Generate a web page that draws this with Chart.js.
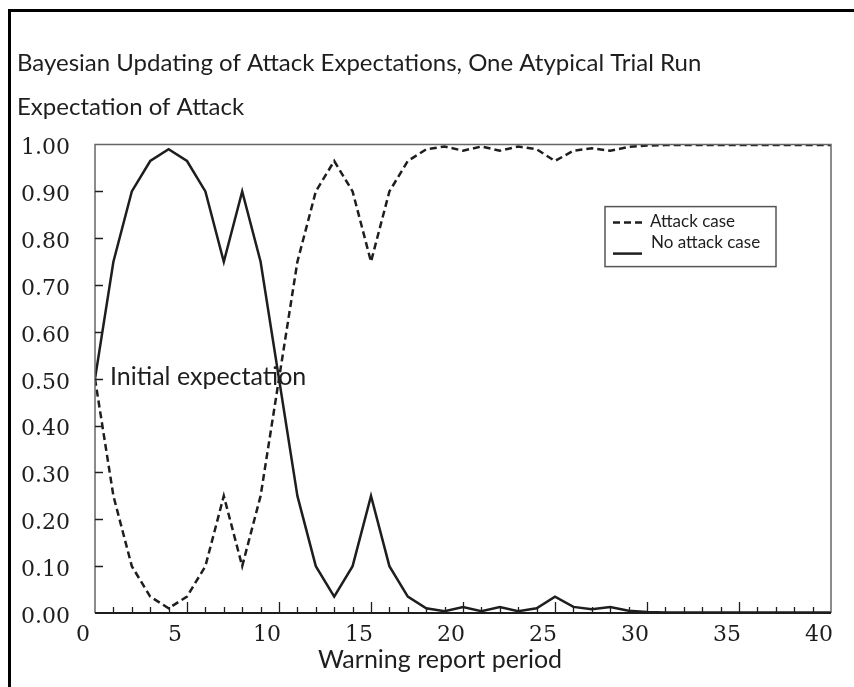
<!DOCTYPE html>
<html>
<head>
<meta charset="utf-8">
<title>Bayesian Updating of Attack Expectations</title>
<script src="https://cdn.jsdelivr.net/npm/chart.js@4.4.1/dist/chart.umd.min.js"></script>
<style>
  body { margin: 0; background: #fff; }
  canvas { display: block; }
</style>
</head>
<body>
<canvas id="chart" width="854" height="687"></canvas>
<script>
// warning report periods 0..40
const periods = [0, 1, 2, 3, 4, 5, 6, 7, 8, 9, 10, 11, 12, 13, 14, 15, 16, 17, 18, 19, 20,
                 21, 22, 23, 24, 25, 26, 27, 28, 29, 30, 31, 32, 33, 34, 35, 36, 37, 38, 39, 40];

// expectation of attack
const attackCase = [0.50, 0.25, 0.10, 0.035, 0.01, 0.035, 0.10, 0.25, 0.10, 0.25, 0.50,
                    0.75, 0.90, 0.965, 0.90, 0.75, 0.90, 0.965, 0.99, 0.996, 0.987,
                    0.996, 0.987, 0.996, 0.99, 0.965, 0.987, 0.992, 0.987, 0.995, 0.998,
                    0.999, 0.999, 0.999, 0.999, 0.999, 0.999, 0.999, 0.999, 0.999, 0.999];
const noAttackCase = [0.50, 0.75, 0.90, 0.965, 0.99, 0.965, 0.90, 0.75, 0.90, 0.75, 0.50,
                      0.25, 0.10, 0.035, 0.10, 0.25, 0.10, 0.035, 0.01, 0.004, 0.013,
                      0.004, 0.013, 0.004, 0.01, 0.035, 0.013, 0.008, 0.013, 0.005, 0.002,
                      0.001, 0.001, 0.001, 0.001, 0.001, 0.001, 0.001, 0.001, 0.001, 0.001];

const chartTitle = 'Bayesian Updating of Attack Expectations, One Atypical Trial Run';
const yAxisTitle = 'Expectation of Attack';
const xAxisTitle = 'Warning report period';
const noteText = 'Initial expectation';

const FONT = 'Lato';
const NUM_FONT = 'DejaVu Serif';
const INK = '#1e1e1e';

// white page plus the black scan frame on top and left
const paperFrame = {
    id: 'paperFrame',
    beforeDraw(chart) {
        const c = chart.ctx;
        c.save();
        c.fillStyle = '#fff';
        c.fillRect(0, 0, chart.width, chart.height);
        c.fillStyle = '#000';
        c.fillRect(8, 9, chart.width - 8, 3);
        c.fillRect(8, 9, 3, chart.height - 9);
        c.restore();
    }
};

// plot box and inward tick marks
const plotFrame = {
    id: 'plotFrame',
    afterDatasetsDraw(chart) {
        const c = chart.ctx;
        const a = chart.chartArea;
        const x = chart.scales.x, y = chart.scales.y;
        c.save();
        c.lineCap = 'butt';
        c.strokeStyle = '#666';
        c.lineWidth = 1.5;
        c.beginPath();
        c.moveTo(a.left, a.bottom);
        c.lineTo(a.left, a.top);
        c.lineTo(a.right, a.top);
        c.lineTo(a.right, a.bottom);
        c.stroke();

        c.strokeStyle = INK;
        c.lineWidth = 2;
        c.beginPath();
        c.moveTo(a.left, a.bottom);
        c.lineTo(a.right, a.bottom);
        c.stroke();

        c.lineWidth = 1.3;
        c.beginPath();
        periods.forEach(p => {
            if (p === 0 || p === 40) return;
            const px = Math.round(x.getPixelForValue(p)) + 0.5;
            const len = p % 5 === 0 ? 11 : 6;
            c.moveTo(px, a.bottom);
            c.lineTo(px, a.bottom - len);
        });
        y.ticks.forEach(t => {
            if (t.value <= 0 || t.value >= 1) return;
            const py = Math.round(y.getPixelForValue(t.value)) + 0.5;
            c.moveTo(a.left, py);
            c.lineTo(a.left + 8, py);
        });
        c.stroke();
        c.restore();
    }
};

// boxed legend inside the plot, the note at the start value, x axis title
const boxLegend = {
    id: 'boxLegend',
    afterDraw(chart) {
        const c = chart.ctx;
        const a = chart.chartArea;
        const ds = chart.data.datasets;
        const x0 = a.left + 510, y0 = a.top + 62;
        c.save();
        c.strokeStyle = '#555';
        c.lineWidth = 1.5;
        c.strokeRect(x0, y0, 171, 60);

        c.strokeStyle = INK;
        c.lineWidth = 2.5;
        c.setLineDash(ds[0].borderDash);
        c.beginPath();
        c.moveTo(x0 + 8, y0 + 16);
        c.lineTo(x0 + 38, y0 + 16);
        c.stroke();
        c.setLineDash([]);
        c.beginPath();
        c.moveTo(x0 + 8, y0 + 47);
        c.lineTo(x0 + 37, y0 + 47);
        c.stroke();

        c.fillStyle = INK;
        c.font = '17px ' + FONT;
        c.textBaseline = 'middle';
        c.fillText(ds[0].label, x0 + 45, y0 + 15);
        c.fillText(ds[1].label, x0 + 46, y0 + 36);

        // note beside the 0.50 starting point
        c.font = '25px ' + FONT;
        c.fillText(noteText, chart.scales.x.getPixelForValue(0) + 15, chart.scales.y.getPixelForValue(0.5) - 2);

        // axis title, sits a little left of centre in the original
        c.font = '25px ' + FONT;
        c.textAlign = 'center';
        c.fillText(xAxisTitle, (a.left + a.right) / 2 - 23, a.bottom + 47);
        c.restore();
    }
};

const ctx = document.getElementById('chart').getContext('2d');
const myChart = new Chart(ctx, {
    type: 'line',
    data: {
        labels: periods,
        datasets: [{
            label: 'Attack case',
            data: attackCase,
            borderColor: INK,
            borderWidth: 2.5,
            borderDash: [7, 4],
            pointRadius: 0,
            tension: 0,
            fill: false
        }, {
            label: 'No attack case',
            data: noAttackCase,
            borderColor: INK,
            borderWidth: 2.5,
            pointRadius: 0,
            tension: 0,
            fill: false
        }]
    },
    options: {
        responsive: false,
        animation: false,
        events: [],
        layout: {
            padding: { left: 17, right: 20, top: 0, bottom: 0 }
        },
        plugins: {
            legend: { display: false },
            tooltip: { enabled: false },
            title: {
                display: true,
                text: chartTitle,
                align: 'start',
                color: INK,
                font: { family: FONT, size: 24, weight: 'normal' },
                padding: { top: 49, bottom: 8 }
            },
            subtitle: {
                display: true,
                text: yAxisTitle,
                align: 'start',
                color: INK,
                font: { family: FONT, size: 24, weight: 'normal' },
                padding: { top: 7, bottom: 23 }
            }
        },
        scales: {
            x: {
                type: 'linear',
                min: 0,
                max: 40,
                border: { display: false },
                grid: { display: false, drawTicks: false },
                ticks: {
                    stepSize: 5,
                    labelOffset: -12,
                    padding: 9,
                    maxRotation: 0,
                    color: INK,
                    font: { family: NUM_FONT, size: 22 }
                },
                afterFit(scale) { scale.height = 74; }
            },
            y: {
                min: 0,
                max: 1,
                border: { display: false },
                grid: { display: false, drawTicks: false },
                ticks: {
                    stepSize: 0.1,
                    padding: 25,
                    labelOffset: 4,
                    color: INK,
                    font: { family: NUM_FONT, size: 22 },
                    callback: v => v.toFixed(2)
                },
                afterFit(scale) { scale.width = 78; }
            }
        }
    },
    plugins: [paperFrame, plotFrame, boxLegend]
});
</script>
</body>
</html>
